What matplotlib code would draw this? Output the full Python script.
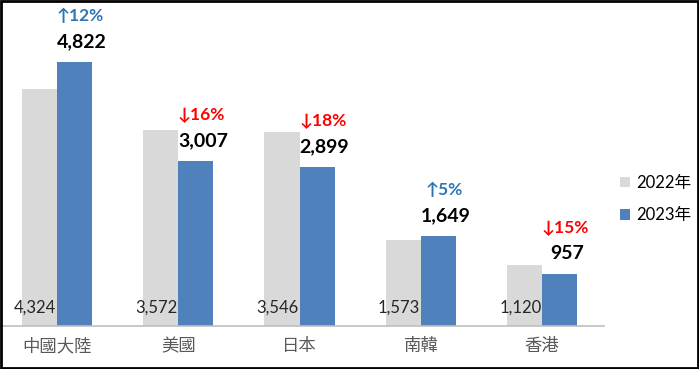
import matplotlib
matplotlib.use("Agg")
import numpy as np
import matplotlib.pyplot as plt
from matplotlib.patches import Rectangle

plt.rcParams['font.family'] = ['Lato', 'Noto Sans CJK TC', 'DejaVu Sans']

categories = ["中國大陸", "美國", "日本", "南韓", "香港"]
v2022 = [4324, 3572, 3546, 1573, 1120]
v2023 = [4822, 3007, 2899, 1649, 957]
changes = ["↑12%", "↓16%", "↓18%", "↑5%", "↓15%"]

gray = "#D9D9D9"
blue = "#4F81BD"

fig = plt.figure(figsize=(6.99, 3.69), dpi=100)
ax = fig.add_axes([0, 1 - 326 / 369, 604 / 699, 326 / 369])

x = np.arange(len(categories))
w = 0.29
b1 = ax.bar(x - w / 2, v2022, w, color=gray, label="2022年")
b2 = ax.bar(x + w / 2, v2023, w, color=blue, label="2023年")

ax.set_xlim(-0.47, 4.51)
ax.set_ylim(0, 5954)
for s in ["top", "left", "right"]:
    ax.spines[s].set_visible(False)
ax.spines["bottom"].set_color("#BFBFBF")
ax.spines["bottom"].set_linewidth(1.2)
ax.set_yticks([])
ax.set_xticks(x)
ax.set_xticklabels(categories, fontsize=12.5, color="#595959",
                   family=['Noto Sans CJK TC', 'DejaVu Sans'])
ax.tick_params(axis="x", length=0, pad=8)

# 2022 values near the bottom of the gray bars
for xi, v in zip(x, v2022):
    ax.annotate(f"{v:,}", (xi - w / 2, 0), xytext=(-3, 13.5),
                textcoords="offset points", ha="center", va="center",
                fontsize=12, color="#262626")

# 2023 values and change above the blue bars
for xi, v, c in zip(x, v2023, changes):
    ax.annotate(f"{v:,}", (xi + w / 2, v), xytext=(5, 14.5),
                textcoords="offset points", ha="center", va="center",
                fontsize=14, fontweight="bold", color="black")
    col = "#2E75B6" if c.startswith("↑") else "#FF0000"
    ax.annotate(c, (xi + w / 2, v), xytext=(4, 33),
                textcoords="offset points", ha="center", va="center",
                fontsize=12.5, fontweight="bold", color=col,
                family=['Lato', 'DejaVu Sans'])

fig.legend(handles=[b1, b2], loc="center left", bbox_to_anchor=(605 / 699, 1 - 199 / 369),
           frameon=False, fontsize=12, handlelength=0.6, handleheight=0.6,
           handletextpad=0.35, labelspacing=1.0)

fig.patches.append(Rectangle((0.0015, 0.003), 0.997, 0.994, transform=fig.transFigure,
                             fill=False, edgecolor="black", linewidth=2))

fig.savefig("out.png", dpi=100)
